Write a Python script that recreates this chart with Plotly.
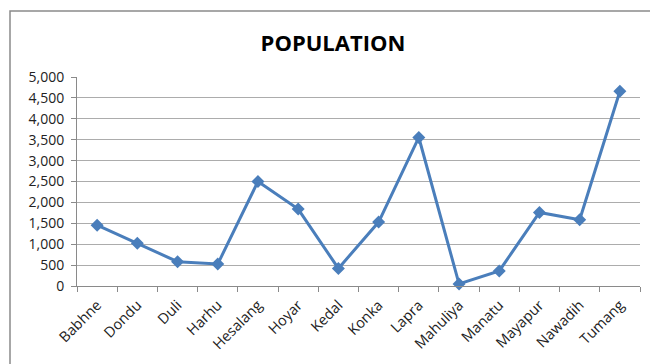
import plotly.graph_objects as go

villages = ["Babhne", "Dondu", "Duli", "Harhu", "Hesalang", "Hoyar", "Kedal",
            "Konka", "Lapra", "Mahuliya", "Manatu", "Mayapur", "Nawadih", "Tumang"]
population = [1455, 1025, 582, 525, 2500, 1840, 420, 1530, 3553, 50, 360, 1760, 1585, 4660]
y_ticks = [0, 500, 1000, 1500, 2000, 2500, 3000, 3500, 4000, 4500, 5000]

W, H = 650, 364
L, R, T, B = 77, 10, 77, 78
pw = W - L - R
ph = H - T - B

fig = go.Figure()
fig.add_trace(go.Scatter(
    x=villages, y=population, mode="lines+markers",
    line=dict(color="#4a7ebb", width=3),
    marker=dict(symbol="diamond", size=10, color="#4a7ebb"),
    showlegend=False, cliponaxis=False,
))

# chart border (cropped at right and bottom)
fig.add_shape(type="rect", xref="paper", yref="paper",
              x0=(10 - L) / pw, x1=(700 - L) / pw,
              y0=(ph + T - 420) / ph, y1=(ph + T - 11) / ph,
              line=dict(color="#8a8a8a", width=1.5), fillcolor="rgba(0,0,0,0)",
              layer="below")

fig.update_layout(
    width=W, height=H,
    margin=dict(l=L, r=R, t=T, b=B),
    paper_bgcolor="white", plot_bgcolor="white",
    title=dict(text="<b>POPULATION</b>", x=(333 - L) / pw, xref="paper", xanchor="center",
               y=(H - 43) / H, yanchor="middle",
               font=dict(family="Open Sans", size=22, color="black")),
    font=dict(family="Open Sans", size=13, color="#222"),
)
fig.update_xaxes(
    type="category", range=[-0.5, len(villages) - 0.5],
    tickangle=-45, tickson="boundaries",
    ticks="outside", ticklen=5, tickcolor="#8a8a8a",
    showline=True, linecolor="#8a8a8a", linewidth=1,
    showgrid=False, tickfont=dict(size=14.5, color="#222"),
    ticklabelstandoff=4,
)
fig.update_yaxes(
    range=[0, 5000], tickvals=y_ticks, tickformat=",d",
    ticks="outside", ticklen=5, tickcolor="#8a8a8a",
    showline=True, linecolor="#8a8a8a", linewidth=1,
    showgrid=True, gridcolor="#acacac", gridwidth=1, zeroline=False,
    tickfont=dict(size=14, color="#222"),
    ticklabelstandoff=4,
)
fig.write_html("out.html")
